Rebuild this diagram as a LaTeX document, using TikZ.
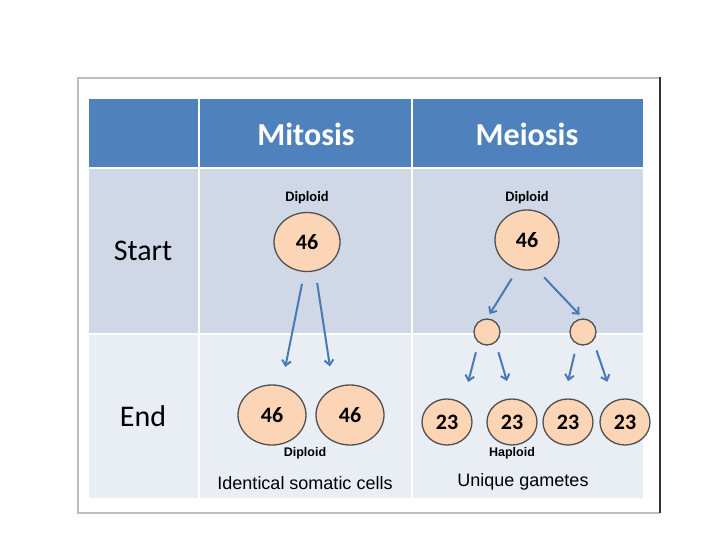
\documentclass[tikz,border=0pt]{standalone}
\usepackage{fontspec}
\setmainfont{Liberation Sans}
\newfontfamily\calfont{Carlito}
\usetikzlibrary{shapes.geometric, arrows.meta, positioning}
\definecolor{headblue}{RGB}{79,129,189}
\definecolor{startrow}{RGB}{208,216,232}
\definecolor{endrow}{RGB}{233,237,244}
\definecolor{cellpeach}{RGB}{251,213,181}
\definecolor{cellline}{RGB}{80,80,80}
\definecolor{arrowblue}{RGB}{72,122,180}
\definecolor{framegray}{RGB}{190,190,190}
\begin{document}
\begin{tikzpicture}[x=1pt, y=-1pt,
  cell/.style={ellipse, draw=cellline, line width=1.3pt, fill=cellpeach, inner sep=0pt, font=\calfont\fontsize{22}{22}\selectfont\bfseries},
  bigcell/.style={cell, minimum width=66pt, minimum height=59pt},
  smallcell/.style={cell, minimum width=26pt, minimum height=26pt},
  gamete/.style={cell, minimum width=50pt, minimum height=46pt},
  split/.style={draw=arrowblue, line width=2pt, -{Straight Barb[length=5pt,width=9pt]}},
  title/.style={text=white, font=\calfont\fontsize{32}{32}\selectfont\bfseries},
  rowname/.style={font=\calfont\fontsize{30}{30}\selectfont},
  ploidy/.style={font=\calfont\fontsize{14.5}{14.5}\selectfont\bfseries},
  ploidyend/.style={font=\fontsize{12.5}{12.5}\selectfont\bfseries},
  caption/.style={font=\fontsize{18}{18}\selectfont}]
\useasboundingbox (0,0) rectangle (720,540);

% Frame
\draw[framegray, line width=1.2pt] (660,78) -- (78,78) -- (78,513) -- (660,513);
\draw[black!80, line width=1.5pt] (660,77) -- (660,513);

% Table
\fill[headblue] (89,99) rectangle (643,168);
\fill[startrow] (89,168) rectangle (643,334);
\fill[endrow] (89,334) rectangle (643,498);
\draw[white, line width=1.5pt] (89,168) -- (643,168);
\draw[white, line width=1.5pt] (89,334) -- (643,334);
\draw[white, line width=1.5pt] (199,99) -- (199,498);
\draw[white, line width=1.5pt] (412,99) -- (412,498);

% Headers
\node[title] (mitTitle) at (306,134) {Mitosis};
\node[title] (meiTitle) at (527,134) {Meiosis};
\node[rowname] (startLbl) at (143,251) {Start};
\node[rowname] (endLbl) at (143,416) {End};

% Mitosis
\node[ploidy] (mitDip) at (307,198) {Diploid};
\node[bigcell] (m0) at (307,242) {46};
\node[bigcell, minimum width=68pt, minimum height=60pt] (m1) at (272,415) {46};
\node[bigcell, minimum width=68pt, minimum height=60pt] (m2) at (350,415) {46};
\node[ploidyend] (mitDipEnd) at (305,453) {Diploid};
\node[caption] (mitCap) at (305,483) {Identical somatic cells};

\draw[split, shorten <=12pt, shorten >=19pt] (m0.-95) -- (m1.72);
\draw[split, shorten <=12pt, shorten >=22pt] (m0.-74) -- (m2.122);

% Meiosis
\node[ploidy] (meiDip) at (527,198) {Diploid};
\node[bigcell, minimum width=64pt, minimum height=60pt] (e0) at (527,240) {46};
\node[smallcell] (h1) at (487,332) {};
\node[smallcell] (h2) at (583,332) {};
\node[gamete] (g1) at (447,422) {23};
\node[gamete] (g2) at (512,422) {23};
\node[gamete] (g3) at (568,422) {23};
\node[gamete] (g4) at (625,422) {23};
\node[ploidyend] (hap) at (512,453) {Haploid};
\node[caption] (meiCap) at (523,482) {Unique gametes};

\draw[split, shorten <=11pt, shorten >=5pt] (e0.-108) -- (h1.north);
\draw[split, shorten <=11pt, shorten >=5pt] (e0.-72) -- (h2.north);
\draw[split, shorten <=10pt, shorten >=22pt] (h1.-129) -- (g1.50);
\draw[split, shorten <=10pt, shorten >=18pt] (h1.-51) -- (g2.north);
\draw[split, shorten <=10pt, shorten >=18pt] (h2.-117) -- (g3.100);
\draw[split, shorten <=10pt, shorten >=20pt] (h2.-41) -- (g4.118);
\end{tikzpicture}
\end{document}
